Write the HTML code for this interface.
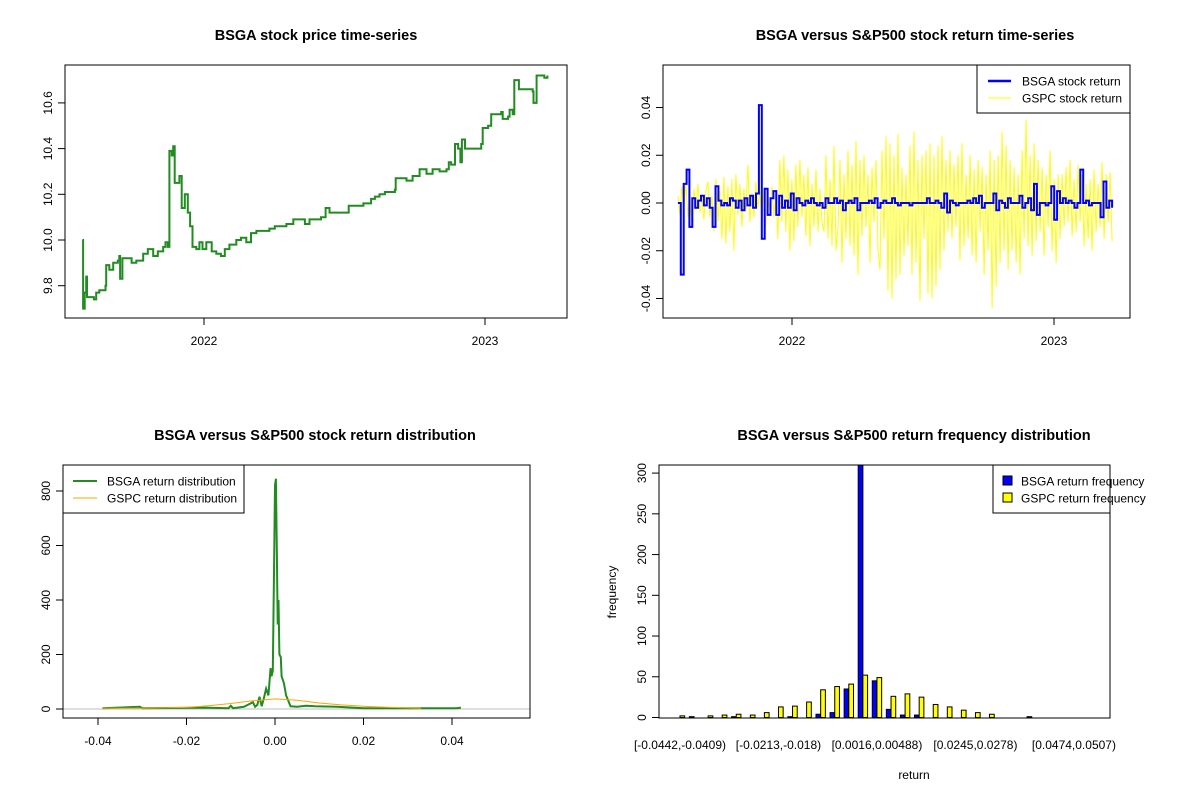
<!DOCTYPE html>
<html><head><meta charset="utf-8"><style>
html,body{margin:0;padding:0;background:#fff}
svg{display:block;font-family:"Liberation Sans",Arial,sans-serif}
</style></head><body>
<svg id="c" width="1200" height="800" viewBox="0 0 1200 800" xmlns="http://www.w3.org/2000/svg">
<rect width="1200" height="800" fill="#fff"/>
</svg>
<script>
// ---- panel 1: price time series ----
const priceDays = [-158,-157,-155,-153,-152,-146,-143,-140,-136,-131,-128,-127,-123,-118,-112,-110,-109,-106,-101,-94,-88,-79,-73,-66,-60,-53,-50,-47,-45,-42,-40,-38,-32,-29,-25,-21,-18,-15,-10,-6,-2,3,10,16,22,27,33,42,48,55,61,68,77,85,92,98,107,116,124,131,137,146,152,158,163,181,188,198,207,217,222,228,235,241,248,249,263,271,280,289,297,306,315,318,321,326,330,333,335,339,354,360,362,369,373,386,388,395,397,401,403,408,409,427,428,432,439,442,446];
const priceValues = [10.00,9.70,9.77,9.84,9.75,9.75,9.74,9.77,9.78,9.78,9.80,9.89,9.87,9.90,9.91,9.93,9.83,9.92,9.92,9.90,9.91,9.94,9.96,9.93,9.95,9.97,9.99,9.97,10.39,10.37,10.41,10.25,10.28,10.14,10.20,10.12,10.06,9.97,9.96,9.99,9.96,9.99,9.95,9.94,9.93,9.96,9.98,10.00,10.01,9.99,10.03,10.04,10.04,10.05,10.06,10.06,10.07,10.09,10.09,10.07,10.09,10.09,10.10,10.14,10.12,10.12,10.15,10.15,10.16,10.18,10.19,10.20,10.21,10.21,10.22,10.27,10.26,10.28,10.31,10.29,10.31,10.30,10.31,10.34,10.33,10.42,10.40,10.34,10.44,10.40,10.40,10.42,10.49,10.50,10.55,10.56,10.53,10.54,10.57,10.55,10.70,10.70,10.66,10.65,10.60,10.72,10.72,10.71,10.72];
const priceTicks = [9.8,10.0,10.2,10.4,10.6];
const yearTicks = ["2022","2023"];
// ---- panel 2: returns (thousandths) ----
const gspcReturns = [3,-5,7,-2,8,-6,4,-10,6,-3,8,-4,2,-7,5,9,-6,3,-12,10,-8,5,-15,11,-17,7,-12,10,-20,12,-5,8,-10,6,-3,16,-8,4,-6,9,-2,5,-8,6,-10,3,-4,7,-6,5,
-15,18,-8,20,-12,14,-20,10,-16,16,-10,18,-6,12,-14,15,-18,8,-10,14,-12,6,
-8,-12,20,-15,10,-18,24,-20,-10,18,-25,12,-15,22,-18,16,-22,26,-30,18,-14,20,-10,12,-25,15,-8,18,-20,-28,22,-15,28,-37,25,-40,20,-32,29,-30,15,-22,12,-18,24,-30,30,-25,18,-41,20,-15,22,-38,25,-40,20,-35,24,-28,
28,-20,18,-12,22,-15,16,-10,20,-24,25,-18,12,-15,20,-22,14,-25,18,-12,15,-30,12,-20,22,-44,18,-35,20,-25,30,-20,24,-28,18,-20,15,-25,12,-30,22,-15,35,-18,20,-22,25,-16,18,-12,15,-22,12,-10,22,-20,10,-25,12,-15,
12,-10,15,-8,18,-14,10,-12,16,-8,12,-18,8,-15,10,-20,14,-12,8,-10,17,-15,12,-8,13,-16];
const bsgaReturns = [0,-30,8,14,-10,2,-2,1,3,-1, 2,-2,-10,7,1,-1,0,-1,2,1, -2,1,-3,2,-1,3,-2,4,41,-15, 6,-5,2,5,-5,3,-2,1,-2,4,
-3,2,0,-1,1,0,2,0,-1,0, -2,2,0,0,2,0,1,-3,0,1, 0,2,-3,0,0,0,1,0,2,-2, 0,1,0,0,2,0,-1,0,0,0, -1,0,0,0,0,0,2,0,0,1,
0,-2,4,-4,1,0,-1,0,0,0, 1,0,2,0,3,-2,0,0,0,4, -3,1,0,-2,2,0,0,0,3,-2, 0,2,-3,8,-5,0,0,-1,0,7, -7,5,0,2,0,1,0,-2,0,14, 0,1,-1,0,0,0,-6,9,-2,1,-2];
const returnTicks = ["-0.04","-0.02","0.00","0.02","0.04"];
// ---- panel 3: densities ----
const bsgaDensX = [-0.039,-0.0305,-0.03,-0.016,-0.0105,-0.01,-0.0095,-0.007,-0.005,-0.0045,-0.004,-0.0035,-0.003,-0.0025,-0.002,-0.0015,-0.001,-0.0008,-0.0005,-0.0002,0,0.0002,0.0004,0.0006,0.0008,0.001,0.0013,0.0015,0.002,0.0025,0.003,0.0035,0.005,0.007,0.009,0.014,0.02,0.03,0.041,0.042];
const bsgaDensY = [3,8,3,5,3,12,3,8,25,8,15,45,10,40,75,50,150,120,140,530,820,845,590,310,400,200,190,120,95,50,30,10,8,12,10,8,3,3,3,5];
const gspcDensX = [-0.039,-0.03,-0.023,-0.02,-0.015,-0.01,-0.005,0,0.005,0.01,0.015,0.02,0.026,0.033];
const gspcDensY = [3,3,5,6,12,20,30,37,32,22,15,10,6,3];
const densXTicks = [-0.04,-0.02,0,0.02,0.04];
const densYTicks = [0,200,400,600,800];
// ---- panel 4: histogram ----
const bsgaFreq = [0,1,0,0,1,0,0,0,1,0,4,6,35,310,45,10,3,3,0,0,0,0,0,0,0,1,0,0,0,0];
const gspcFreq = [2,0,2,3,4,3,6,13,14,19,34,38,41,52,49,26,29,25,16,13,9,6,4,0,0,0,0,0,0,0];
const binLabels = ["[-0.0442,-0.0409)","[-0.0213,-0.018)","[0.0016,0.00488)","[0.0245,0.0278)","[0.0474,0.0507)"];
const binLabelIdx = [0,7,14,21,28];
const freqTicks = [0,50,100,150,200,250,300];

const svg = document.getElementById('c');
const NS = 'http://www.w3.org/2000/svg';
function mk(tag, attrs, parent){const e=document.createElementNS(NS,tag);for(const k in attrs)e.setAttribute(k,attrs[k]);(parent||svg).appendChild(e);return e;}
function txt(s, x, y, opt, parent){const e=mk('text',Object.assign({x:x,y:y,'font-size':12,fill:'#000','text-anchor':'middle'},opt||{}),parent);e.textContent=s;return e;}

function frame(x0,y0,x1,y1,name){
  const r=mk('rect',{x:x0,y:y0,width:x1-x0,height:y1-y0,fill:'none',stroke:'#000','stroke-width':1});
  
  
}
function title(s,x,y,name){const t=txt(s,x,y,{'font-size':14.5,'font-weight':'bold'});}
function yTick(x,y,label,name){
  const l=mk('line',{x1:x-7,x2:x,y1:y,y2:y,stroke:'#000'});
  
  
  const t=txt(label,x-13,y,{transform:`rotate(-90 ${x-13} ${y})`});
  
  
}
function xTick(x,y,label,name){
  const l=mk('line',{x1:x,x2:x,y1:y,y2:y+7,stroke:'#000'});
  
  
  const t=txt(label,x,y+27);
  
  
}
function clip(id,x0,y0,x1,y1){const cp=mk('clipPath',{id:id});mk('rect',{x:x0,y:y0,width:x1-x0,height:y1-y0},cp);}
function stepPath(xs,ys){let d='';for(let i=0;i<xs.length;i++){d+= i===0?`M${xs[i].toFixed(1)},${ys[i].toFixed(1)}`:`H${xs[i].toFixed(1)}V${ys[i].toFixed(1)}`;}return d;}

// ===== Panel 1 =====
{
  const X=d=>204+d*(281/365), Y=v=>240-(v-10)*228.5;
  title('BSGA stock price time-series',316,40,'price-chart-title');
  const p=mk('path',{d:stepPath(priceDays.map(X),priceValues.map(Y)),fill:'none',stroke:'#228B22','stroke-width':2});
  
  
  frame(65,65,567,318,'price-plot-frame');
  priceTicks.forEach(v=>yTick(65,Y(v),v.toFixed(1),'price-y'));
  yearTicks.forEach((s,i)=>xTick(X(i*365),318,s,'price-x'));
}
// ===== Panel 2 =====
{
  const d0=-159, d1=446;
  const Y=v=>203-v/1000*2387;
  const X=d=>792+d*(262/365);
  clip('cp2',663,65,1130,318);
  title('BSGA versus S&P500 stock return time-series',915,40,'return-chart-title');
  const g=mk('g',{'clip-path':'url(#cp2)'});
  const pts=gspcReturns.map((v,i)=>`${X(d0+i*(d1-d0)/(gspcReturns.length-1)).toFixed(1)},${Y(v).toFixed(1)}`).join(' ');
  const y=mk('polyline',{points:pts,fill:'none',stroke:'#FFFF00','stroke-width':1},g);
  
  
  const bx=bsgaReturns.map((v,i)=>X(d0+i*(d1-d0)/(bsgaReturns.length-1)));
  const b=mk('path',{d:stepPath(bx,bsgaReturns.map(Y)),fill:'none',stroke:'#0000FF','stroke-width':2},g);
  
  
  frame(663,65,1130,318,'return-plot-frame');
  returnTicks.forEach(s=>yTick(663,Y(parseFloat(s)*1000),s,'return-y'));
  yearTicks.forEach((s,i)=>xTick(X(i*365),318,s,'return-x'));
  const lg=mk('g',{});
  
  
  mk('rect',{x:977,y:65,width:153,height:48,fill:'#fff',stroke:'#000'},lg);
  mk('line',{x1:988,x2:1011,y1:81,y2:81,stroke:'#0000FF','stroke-width':2.6},lg);
  mk('line',{x1:988,x2:1011,y1:98,y2:98,stroke:'#FFFF00','stroke-width':1},lg);
  txt('BSGA stock return',1022,85.5,{'text-anchor':'start'},lg);
  txt('GSPC stock return',1022,102.5,{'text-anchor':'start'},lg);
}
// ===== Panel 3 =====
{
  const X=v=>275+v*4425, Y=v=>709-v*0.2725;
  clip('cp3',63,465,530,718);
  title('BSGA versus S&P500 stock return distribution',315,440,'density-chart-title');
  const g=mk('g',{'clip-path':'url(#cp3)'});
  const h=mk('line',{x1:63,x2:530,y1:Y(0),y2:Y(0),stroke:'#BEBEBE'},g);
  
  
  let pts=bsgaDensX.map((x,i)=>`${X(x).toFixed(1)},${Y(bsgaDensY[i]).toFixed(1)}`).join(' ');
  const b=mk('polyline',{points:pts,fill:'none',stroke:'#228B22','stroke-width':2},g);
  
  
  pts=gspcDensX.map((x,i)=>`${X(x).toFixed(1)},${Y(gspcDensY[i]).toFixed(1)}`).join(' ');
  const o=mk('polyline',{points:pts,fill:'none',stroke:'#FFA500','stroke-width':1},g);
  
  
  frame(63,465,530,718,'density-plot-frame');
  densYTicks.forEach(v=>yTick(63,Y(v),String(v),'density-y'));
  densXTicks.forEach(v=>xTick(X(v),718,v.toFixed(2),'density-x'));
  const lg=mk('g',{});
  
  
  mk('rect',{x:63,y:465,width:181,height:48,fill:'#fff',stroke:'#000'},lg);
  mk('line',{x1:73,x2:97,y1:481,y2:481,stroke:'#228B22','stroke-width':2},lg);
  mk('line',{x1:73,x2:97,y1:498,y2:498,stroke:'#FFA500','stroke-width':1},lg);
  txt('BSGA return distribution',107,485.5,{'text-anchor':'start'},lg);
  txt('GSPC return distribution',107,502.5,{'text-anchor':'start'},lg);
}
// ===== Panel 4 =====
{
  const u=4.69, x0=670.6, Y=v=>717.5-v*0.8147;
  clip('cp4',659,465,1110,718);
  title('BSGA versus S&P500 return frequency distribution',914,440,'histogram-chart-title');
  const g=mk('g',{'clip-path':'url(#cp4)'});
  bsgaFreq.forEach((v,i)=>{
    const r=mk('rect',{x:x0+(i*3+1)*u,y:Y(v),width:u,height:Y(0)-Y(v),fill:'#0000FF',stroke:'#000','stroke-width':1},g);
    
    
  });
  gspcFreq.forEach((v,i)=>{
    const r=mk('rect',{x:x0+(i*3+2)*u,y:Y(v),width:u,height:Y(0)-Y(v),fill:'#FFFF00',stroke:'#000','stroke-width':1},g);
    
    
  });
  frame(659,465,1110,718,'histogram-plot-frame');
  freqTicks.forEach(v=>yTick(659,Y(v),String(v),'freq-y'));
  binLabels.forEach((s,k)=>{
    const t=txt(s,x0+(binLabelIdx[k]*3+2)*u,749);
    
    
  });
  const yl=txt('frequency',616,592,{transform:'rotate(-90 616 592)'});
  
  
  const xl=txt('return',914,779);
  
  
  const lg=mk('g',{});
  
  
  mk('rect',{x:993,y:465,width:117,height:48,fill:'#fff',stroke:'#000'},lg);
  mk('rect',{x:1003,y:476,width:9,height:9,fill:'#0000FF',stroke:'#000'},lg);
  mk('rect',{x:1003,y:493,width:9,height:9,fill:'#FFFF00',stroke:'#000'},lg);
  txt('BSGA return frequency',1021,485.5,{'text-anchor':'start'},lg);
  txt('GSPC return frequency',1021,502.5,{'text-anchor':'start'},lg);
}
</script>
</body></html>
